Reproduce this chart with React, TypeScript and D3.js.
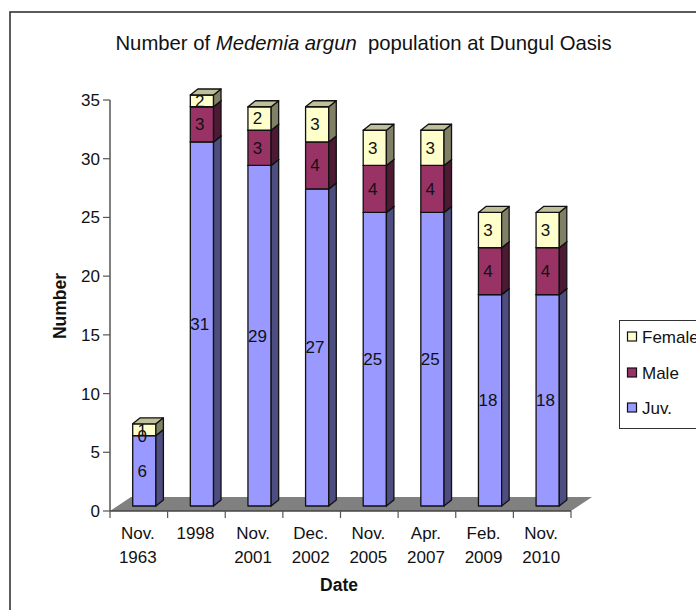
import React from "react";
import * as d3 from "d3";

const dates = [["Nov.", "1963"], ["1998"], ["Nov.", "2001"], ["Dec.", "2002"], ["Nov.", "2005"], ["Apr.", "2007"], ["Feb.", "2009"], ["Nov.", "2010"]];
const juv = [6, 31, 29, 27, 25, 25, 18, 18];
const male = [0, 3, 3, 4, 4, 4, 4, 4];
const female = [1, 2, 2, 3, 3, 3, 3, 3];
const yTicks = [0, 5, 10, 15, 20, 25, 30, 35];

const seriesDefs = [
  { name: "Juv.", values: juv, front: "#9999ff", side: "#4d4d80", top: "#7373bf" },
  { name: "Male", values: male, front: "#993366", side: "#4d1a33", top: "#73264d" },
  { name: "Female", values: female, front: "#ffffcc", side: "#808066", top: "#bfbf99" },
];
const FONT = "Liberation Sans, Arial, sans-serif";
const INK = "#111";

const x0 = 110, x1 = 571, axisY = 511, axisTop = 100;
const floorDX = 21, floorDY = 14;
const depthDX = 7.5, depthDY = 6, liftY = 5;

export default function App() {
  const y = d3.scaleLinear().domain([0, 35]).range([axisY, axisTop]).clamp(true);
  const bw = 23.2;
  const stackGen = d3.stack<number>().keys(d3.range(3) as any).value((i, k) => seriesDefs[k as any].values[i]);
  const stacks = stackGen(d3.range(dates.length));
  const step = (x1 - x0) / dates.length;
  const barX = (i: number) => x0 + step * i + 22.7;
  const legendY = [337, 373, 408];
  const legend = [seriesDefs[2], seriesDefs[1], seriesDefs[0]];
  return (
    <svg width={696} height={610} style={{ position: "absolute", left: 0, top: 0, background: "#fff" }} fontFamily={FONT} fill="#000">
      <rect x={10} y={12} width={700} height={610} fill="#fff" stroke="#333" strokeWidth={1.6} />
      <text x={363.5} y={50} fontSize={20.3} textAnchor="middle" fill="#111" xmlSpace="preserve">
        Number of <tspan fontStyle="italic">Medemia argun</tspan>{"  "}population at Dungul Oasis
      </text>
      <polygon points={`${x0},${axisY} ${x1},${axisY} ${x1 + floorDX},${axisY - floorDY} ${x0 + floorDX},${axisY - floorDY}`} fill="#808080" />
      <line x1={x0} x2={x0} y1={axisTop} y2={axisY} stroke="#555" strokeWidth={1.5} />
      <line x1={x0} x2={x1} y1={axisY} y2={axisY} stroke="#444" strokeWidth={1.5} />
      {yTicks.map((t) => (
        <g key={t}>
          <line x1={x0 - 7} x2={x0} y1={y(t)} y2={y(t)} stroke="#555" strokeWidth={1.2} />
          <text x={x0 - 10} y={y(t) + 6} fontSize={17} textAnchor="end" fill={INK}>{t}</text>
        </g>
      ))}
      {d3.range(dates.length + 1).map((i) => (
        <line key={i} x1={x0 + step * i} x2={x0 + step * i} y1={axisY} y2={axisY + 7} stroke="#555" strokeWidth={1.2} />
      ))}
      {dates.map((d, i) => (
        <text key={i} textAnchor="middle" fontSize={17} fill={INK}>
          {d.map((s, j) => (
            <tspan key={j} x={x0 + step * (i + 0.5) - 1} y={539 + j * 24}>{s}</tspan>
          ))}
        </text>
      ))}
      {dates.map((_, i) => (
        <g key={i} stroke="#111" strokeWidth={1.3} strokeLinejoin="round">
          {stacks.map((s, k) => {
            const def = seriesDefs[k];
            const a = y(s[i][0]) - liftY;
            const b = y(s[i][1]) - liftY;
            const l = barX(i), r = l + bw;
            if (a - b < 0.01) return null;
            return (
              <g key={k}>
                <rect x={l} y={b} width={bw} height={a - b} fill={def.front} />
                <polygon points={`${r},${a} ${r + depthDX},${a - depthDY} ${r + depthDX},${b - depthDY} ${r},${b}`} fill={def.side} />
                <polygon points={`${l},${b} ${r},${b} ${r + depthDX},${b - depthDY} ${l + depthDX},${b - depthDY}`} fill={def.top} />
              </g>
            );
          })}
        </g>
      ))}
      {dates.map((_, i) => (
        <g key={i}>
          {stacks.map((s, k) => {
            const a = y(s[i][0]) - liftY;
            const b = y(s[i][1]) - liftY;
            return (
              <text key={k} x={barX(i) + 9.5} y={(a + b) / 2 + 6} fontSize={17} textAnchor="middle" fill={INK}>
                {seriesDefs[k].values[i]}
              </text>
            );
          })}
        </g>
      ))}
      <text transform="translate(66,306) rotate(-90)" fontSize={17.5} fontWeight="bold" textAnchor="middle" fill={INK}>Number</text>
      <text x={339} y={591} fontSize={17.5} fontWeight="bold" textAnchor="middle" fill={INK}>Date</text>
      <rect x={619.5} y={320.5} width={90} height={108} fill="#fff" stroke="#333" strokeWidth={1} />
      {legend.map((def, i) => (
        <g key={def.name}>
          <rect x={627.5} y={legendY[i] - 5} width={9} height={9} fill={def.front} stroke="#111" strokeWidth={1.2} />
          <text x={642} y={legendY[i] + 6} fontSize={17} fill={INK}>{def.name}</text>
        </g>
      ))}
    </svg>
  );
}
